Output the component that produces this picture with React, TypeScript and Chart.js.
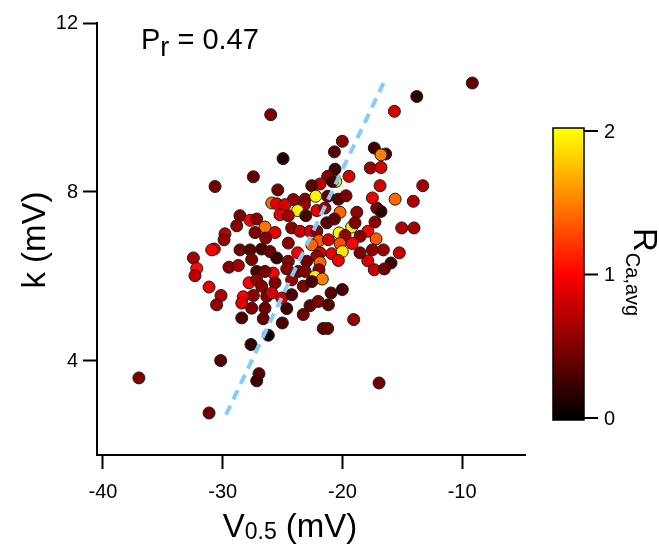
import React, { useEffect, useRef } from "react";
import { Chart, registerables } from "chart.js";

Chart.register(...registerables);

// V0.5 (mV)
const v05: number[] = [
  -9.15, -13.79, -15.66, -25.99, -20.01, -20.67, -24.96, -27.44, -20.62, -19.45,
  -21.23, -21.87, -22.56, -20.56, -20.84, -25.4, -17.34, -16.39, -16.78, -17.67,
  -16.78, -16.86, -13.29, -30.64, -17.5, -15.6, -14.08, -17.13, -16.78, -17.28,
  -15.05, -14.02, -17.88, -17.19, -17.5, -16.58, -15.25, -17.88, -15.94, -17.34,
  -16.5, -28.56, -28.83, -29.81, -29.89, -28.56, -30.7, -30.92, -32.45, -32.17,
  -32.32, -29.48, -28.69, -31.14, -30.14, -28.28, -28.41, -30.51, -28.41, -30.17,
  -37.0, -31.14, -27.58, -26.47, -24.65, -26.61, -25.02, -23.27, -22.71, -21.17,
  -19.06, -21.6, -21.23, -26.19, -27.64, -26.97, -27.16, -16.94, -24.1, -23.12,
  -22.23, -21.23, -20.34, -19.7, -25.9, -25.49, -24.8, -23.18, -23.74, -23.06,
  -22.14, -21.46, -20.2, -18.8, -25.22, -24.52, -27.71, -27.16, -26.47, -25.63,
  -27.3, -26.41, -24.24, -23.54, -22.71, -22.14, -21.31, -20.67, -19.23, -18.95,
  -20.28, -19.78, -18.53, -21.96, -22.56, -21.17, -20.2, -19.18, -27.71, -26.75,
  -26.05, -24.52, -23.74, -21.87, -20.89, -20.01, -18.53, -27.58, -25.49, -24.52,
  -22.99, -22.14, -20.34, -21.87, -27.16, -25.78, -26.47, -24.65, -23.68, -23.12,
  -21.96, -22.29, -21.68, -27.8, -27.16, -26.75, -25.63, -24.24, -23.27, -22.56,
  -27.44, -26.32, -25.9, -25.07, -24.24, -20.95, -20.01, -22.02
];

// k (mV)
const kSlope: number[] = [
  10.58, 10.26, 9.91, 9.83, 9.2, 8.95, 8.79, 8.36, 8.54, 8.37,
  8.37, 8.19, 8.15, 8.25, 8.25, 8.05, 9.04, 8.9, 8.88, 8.57,
  8.58, 8.15, 8.15, 8.13, 7.86, 7.83, 7.78, 7.62, 7.54, 7.29,
  7.15, 7.15, 7.07, 6.89, 6.63, 6.63, 6.56, 6.37, 6.32, 6.16,
  6.18, 7.44, 7.2, 7.01, 6.87, 6.63, 6.65, 6.63, 6.44, 6.19,
  6.02, 6.22, 6.26, 5.75, 5.55, 5.52, 5.37, 5.33, 5.02, 4.01,
  3.6, 2.77, 5.25, 5.25, 5.24, 5.0, 4.9, 5.1, 5.31, 5.33,
  4.98, 4.77, 4.77, 4.61, 4.39, 3.7, 3.53, 3.48, 7.82, 7.83,
  7.9, 7.9, 7.83, 7.91, 7.74, 7.72, 7.7, 7.7, 7.56, 7.44,
  7.56, 7.62, 7.52, 7.52, 7.46, 7.44, 7.33, 7.36, 7.17, 7.04,
  7.04, 6.91, 7.15, 7.07, 7.07, 7.07, 7.27, 7.36, 7.17, 7.27,
  7.03, 6.97, 6.95, 6.85, 6.75, 6.87, 6.78, 6.78, 6.63, 6.65,
  6.59, 6.79, 6.56, 6.56, 6.54, 6.59, 6.56, 6.4, 6.44, 6.36,
  6.36, 6.48, 6.38, 6.33, 6.12, 6.08, 6.12, 6.18, 6.12, 6.12,
  6.16, 6.0, 5.94, 5.85, 5.92, 5.77, 5.85, 5.92, 5.77, 5.88,
  5.55, 5.53, 5.61, 5.49, 5.57, 5.61, 5.69, 5.41
];

// R Ca,avg (colour value)
const rCaAvg: number[] = [
  0.4, 0.2, 0.85, 0.5, 0.55, 0.35, 0.15, 0.4, 0.25, 0.85,
  0.55, 0.75, 0.35, 1.9, 0.25, 0.45, 0.25, 0.3, 1.5, 0.6,
  0.85, 0.85, 0.65, 0.45, 0.95, 1.4, 0.7, 0.5, 0.2, 0.55,
  0.7, 0.65, 1.0, 1.35, 0.55, 0.6, 0.8, 0.85, 0.25, 0.8,
  0.45, 0.5, 0.55, 0.7, 0.6, 0.45, 0.85, 1.0, 0.65, 1.05,
  0.75, 0.55, 0.65, 0.9, 0.7, 1.0, 0.9, 0.6, 0.3, 0.35,
  0.5, 0.45, 0.5, 0.45, 0.25, 0.4, 0.3, 0.45, 0.4, 0.35,
  0.6, 0.35, 0.4, 0.05, 0.2, 0.35, 0.25, 0.45, 0.6, 0.55,
  1.95, 0.4, 0.35, 0.5, 1.4, 0.9, 0.85, 0.6, 1.95, 0.3,
  0.9, 0.6, 1.4, 0.6, 0.9, 0.65, 1.0, 0.55, 1.45, 0.9,
  0.5, 0.55, 0.55, 0.8, 0.85, 0.55, 0.35, 0.4, 1.95, 0.5,
  1.95, 0.6, 0.55, 1.35, 1.4, 0.85, 1.3, 1.0, 0.35, 0.3,
  0.45, 0.55, 0.95, 0.85, 0.9, 1.9, 0.5, 0.5, 0.25, 0.55,
  0.45, 0.6, 0.95, 1.4, 0.3, 1.0, 0.5, 0.55, 0.45, 0.5,
  0.55, 1.95, 1.5, 1.0, 0.6, 0.55, 0.5, 0.6, 0.5, 0.3,
  0.55, 0.5, 0.85, 0.8, 0.3, 0.35, 0.3, 0.5
];

const fitLineX: number[] = [-29.72, -16.55];
const fitLineY: number[] = [2.73, 10.59];

const xTickValues: number[] = [-40, -30, -20, -10];
const yTickValues: number[] = [4, 8, 12];
const colorbarTicks: number[] = [0, 1, 2];
const pearsonR = "0.47";

const FONT = '"Liberation Sans", Arial, Helvetica, sans-serif';

function hot(v: number): string {
  const t = Math.max(0, Math.min(2, v));
  if (t <= 1) return `rgb(${Math.round(255 * t)},0,0)`;
  return `rgb(255,${Math.round(255 * (t - 1))},0)`;
}

type Part = { text: string; size: number; dy?: number; dx?: number };

function partsWidth(ctx: CanvasRenderingContext2D, parts: Part[]) {
  let w = 0;
  for (const p of parts) {
    ctx.font = `${p.size}px ${FONT}`;
    w += ctx.measureText(p.text).width + (p.dx || 0);
  }
  return w;
}

function drawParts(ctx: CanvasRenderingContext2D, parts: Part[], x: number, y: number) {
  let cx = x;
  for (const p of parts) {
    ctx.font = `${p.size}px ${FONT}`;
    cx += p.dx || 0;
    ctx.fillText(p.text, cx, y + (p.dy || 0));
    cx += ctx.measureText(p.text).width;
  }
}

const annotations = {
  id: "annotations",
  afterDraw(chart: any) {
    const ctx: CanvasRenderingContext2D = chart.ctx;
    ctx.save();
    ctx.fillStyle = "#000";
    ctx.textAlign = "left";
    ctx.textBaseline = "alphabetic";

    // Title P_r = 0.47
    drawParts(ctx, [
      { text: "P", size: 29 },
      { text: "r", size: 27, dy: 7 },
      { text: " = " + pearsonR, size: 29 },
    ], 141, 49);

    // X title
    const xParts: Part[] = [
      { text: "V", size: 33 },
      { text: "0.5", size: 23, dy: 2 },
      { text: " (mV)", size: 33 },
    ];
    const xw = partsWidth(ctx, xParts);
    drawParts(ctx, xParts, 290 - xw / 2, 537);

    // Y title
    ctx.save();
    ctx.translate(45, 240);
    ctx.rotate(-Math.PI / 2);
    const yParts: Part[] = [{ text: "k (mV)", size: 33 }];
    const yw = partsWidth(ctx, yParts);
    drawParts(ctx, yParts, -yw / 2, 0);
    ctx.restore();

    // Colorbar
    const bx0 = 553, bx1 = 584, by0 = 128, by1 = 420;
    const yFor0 = 418, yFor2 = 131;
    const valToY = (v: number) => yFor0 + (yFor2 - yFor0) * (v / 2);
    const grad = ctx.createLinearGradient(0, yFor0, 0, yFor2);
    grad.addColorStop(0, hot(0));
    grad.addColorStop(0.25, hot(0.5));
    grad.addColorStop(0.5, hot(1));
    grad.addColorStop(0.75, hot(1.5));
    grad.addColorStop(1, hot(2));
    ctx.fillStyle = grad;
    ctx.fillRect(bx0, by0, bx1 - bx0, by1 - by0);
    ctx.strokeStyle = "#000";
    ctx.lineWidth = 1.5;
    ctx.strokeRect(bx0, by0, bx1 - bx0, by1 - by0);
    ctx.lineWidth = 2;
    ctx.fillStyle = "#000";
    ctx.font = `20px ${FONT}`;
    ctx.textBaseline = "middle";
    for (const t of colorbarTicks) {
      const y = valToY(t);
      ctx.beginPath();
      ctx.moveTo(bx1, y);
      ctx.lineTo(bx1 + 14, y);
      ctx.stroke();
      ctx.fillText(String(t), bx1 + 20, y + 1);
    }
    ctx.textBaseline = "alphabetic";

    // Colorbar label R_Ca,avg (rotated clockwise)
    ctx.save();
    ctx.translate(634, 228);
    ctx.rotate(Math.PI / 2);
    drawParts(ctx, [
      { text: "R", size: 33 },
      { text: "Ca,avg", size: 20, dy: 8, dx: 1 },
    ], 0, 0);
    ctx.restore();

    ctx.restore();
  },
};

export default function App() {
  const canvasRef = useRef<HTMLCanvasElement | null>(null);

  useEffect(() => {
    if (!canvasRef.current) return;
    const points = v05.map((x, i) => ({ x, y: kSlope[i] }));
    const fit = fitLineX.map((x, i) => ({ x, y: fitLineY[i] }));

    const axisCommon = {
      type: "linear" as const,
      grid: {
        display: true,
        drawOnChartArea: false,
        drawTicks: true,
        tickLength: 14,
        tickWidth: 2,
        tickColor: "#000",
        color: "#000",
      },
      border: { display: true, color: "#000", width: 2 },
    };

    const chart = new Chart(canvasRef.current, {
      type: "scatter",
      data: {
        datasets: [
          {
            label: "fit",
            data: fit,
            showLine: true,
            borderColor: "#84cdf7",
            borderWidth: 4,
            borderDash: [10, 7],
            pointRadius: 0,
            fill: false,
            order: 0,
          } as any,
          {
            label: "cells",
            data: points,
            backgroundColor: rCaAvg.map(hot),
            borderColor: "#1a1a1a",
            borderWidth: 1,
            pointRadius: 6,
            pointHoverRadius: 6,
            order: 1,
          },
        ],
      },
      options: {
        responsive: false,
        animation: false,
        devicePixelRatio: 1,
        layout: { padding: { left: 0, right: 134, top: 23, bottom: 0 } },
        plugins: { legend: { display: false }, tooltip: { enabled: false } },
        scales: {
          x: {
            ...axisCommon,
            min: -40.5,
            max: -4.75,
            afterFit: (s: any) => { s.height = 92; },
            afterBuildTicks: (s: any) => { s.ticks = xTickValues.map((v) => ({ value: v })); },
            ticks: {
              color: "#000",
              font: { family: FONT, size: 20 },
              padding: 11,
              maxRotation: 0,
              autoSkip: false,
            },
          },
          y: {
            ...axisCommon,
            min: 1.775,
            max: 12,
            afterFit: (s: any) => { s.width = 97; },
            afterBuildTicks: (s: any) => { s.ticks = yTickValues.map((v) => ({ value: v })); },
            ticks: {
              color: "#000",
              font: { family: FONT, size: 20 },
              padding: 5,
              autoSkip: false,
            },
          },
        },
      },
      plugins: [annotations],
    });

    return () => chart.destroy();
  }, []);

  return (
    <div style={{ position: "fixed", left: 0, top: 0, width: 659, height: 547, background: "#fff" }}>
      <canvas ref={canvasRef} width={659} height={547} style={{ display: "block" }} />
    </div>
  );
}
